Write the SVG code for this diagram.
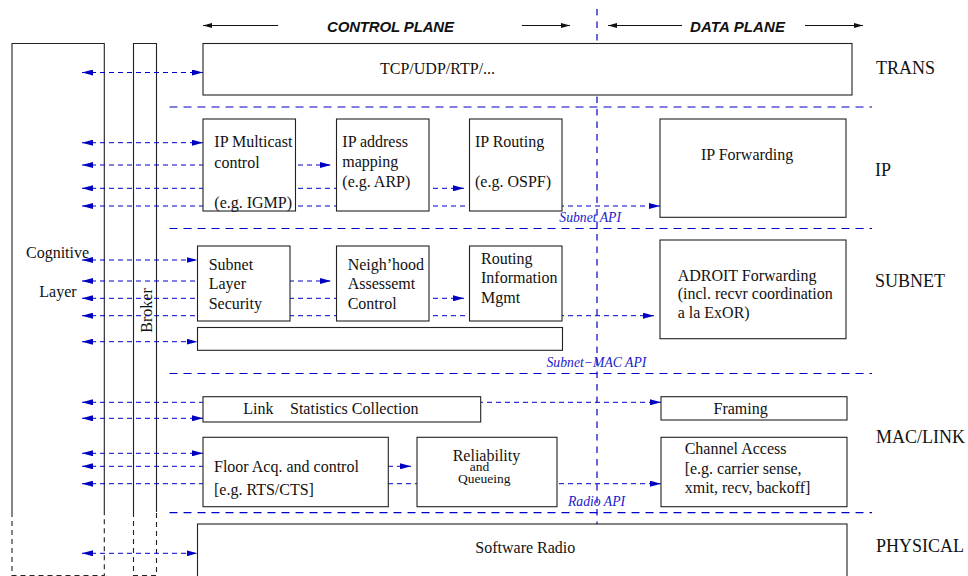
<svg xmlns="http://www.w3.org/2000/svg" width="968" height="576" viewBox="0 0 968 576">
<style>
.box{fill:#fff;stroke:#222;stroke-width:1.1}
.t{font-family:"Liberation Serif","Times New Roman",serif;font-size:16px;fill:#111}
.sm{font-size:13.5px}
.lay{font-family:"Liberation Serif","Times New Roman",serif;font-size:18px;fill:#111}
.api{font-family:"Liberation Serif","Times New Roman",serif;font-style:italic;font-size:13.7px;fill:#1a1acc}
.hdr{font-family:"Liberation Sans",Arial,sans-serif;font-weight:bold;font-style:italic;font-size:15px;fill:#111}
.conn{stroke:#0000c8;stroke-width:1;stroke-dasharray:5 4;fill:none}
.sep{stroke:#0000c8;stroke-width:1.2;stroke-dasharray:8 6;fill:none}
.vsep{stroke:#0000c8;stroke-width:1.2;stroke-dasharray:6.5 6;fill:none}
.harr{stroke:#111;stroke-width:1;fill:none}
.col{stroke:#222;stroke-width:1.1;fill:none}
.cold{stroke:#222;stroke-width:1.1;fill:none;stroke-dasharray:5 4}
</style>
<defs>
<marker id="ab" viewBox="0 0 11 6" refX="11" refY="3" markerWidth="11" markerHeight="6" markerUnits="userSpaceOnUse" orient="auto-start-reverse">
<path d="M0,0 L11,3 L0,6 z" fill="#0000c0"/>
</marker>
<marker id="ak" viewBox="0 0 9 5" refX="9" refY="2.5" markerWidth="9" markerHeight="5" markerUnits="userSpaceOnUse" orient="auto-start-reverse">
<path d="M0,0 L9,2.5 L0,5 z" fill="#111"/>
</marker>
</defs>
<rect x="0" y="0" width="968" height="576" fill="#fff"/>

<g id="header">
<line class="harr" x1="278" y1="25.5" x2="203" y2="25.5" marker-end="url(#ak)"/>
<text class="hdr" x="327" y="31.5" textLength="127">CONTROL PLANE</text>
<line class="harr" x1="522" y1="25.5" x2="570" y2="25.5" marker-end="url(#ak)"/>
<line class="harr" x1="682" y1="25.5" x2="608" y2="25.5" marker-end="url(#ak)"/>
<text class="hdr" x="690" y="31.5" textLength="95">DATA PLANE</text>
<line class="harr" x1="805" y1="25.5" x2="863" y2="25.5" marker-end="url(#ak)"/>
</g>

<g id="separators">
<line class="vsep" x1="597" y1="9" x2="597" y2="524"/>
<line class="sep" x1="169.5" y1="107" x2="872" y2="107"/>
<line class="sep" x1="169.5" y1="228.5" x2="872" y2="228.5"/>
<line class="sep" x1="169.5" y1="373.5" x2="872" y2="373.5"/>
<line class="sep" x1="169.5" y1="512.7" x2="872" y2="512.7"/>
</g>

<g id="cognitive-layer">
<path class="col" d="M12,512 V43.5 H104.3 V512"/>
<path class="cold" d="M12,512 V575.5 H104.3 V512"/>
<text class="t" x="26" y="258">Cognitive</text>
<text class="t" x="39.3" y="296.7">Layer</text>
</g>

<g id="broker">
<path class="col" d="M133.5,512 V43.5 H156.5 V512"/>
<path class="cold" d="M133.5,512 V575.5 H156.5 V512"/>
<text class="t" text-anchor="middle" transform="translate(151.5,310.5) rotate(-90)">Broker</text>
</g>

<g id="connectors">
<line class="conn" x1="82" y1="72.5" x2="203" y2="72.5" marker-start="url(#ab)" marker-end="url(#ab)"/>
<line class="conn" x1="82" y1="142.7" x2="203" y2="142.7" marker-start="url(#ab)" marker-end="url(#ab)"/>
<line class="conn" x1="82" y1="165" x2="331" y2="165" marker-start="url(#ab)" marker-end="url(#ab)"/>
<line class="conn" x1="82" y1="188.3" x2="464" y2="188.3" marker-start="url(#ab)" marker-end="url(#ab)"/>
<line class="conn" x1="82" y1="206" x2="660" y2="206" marker-start="url(#ab)" marker-end="url(#ab)"/>
<line class="conn" x1="82" y1="260" x2="197.5" y2="260" marker-start="url(#ab)" marker-end="url(#ab)"/>
<line class="conn" x1="82" y1="281" x2="331" y2="281" marker-start="url(#ab)" marker-end="url(#ab)"/>
<line class="conn" x1="82" y1="298.3" x2="464" y2="298.3" marker-start="url(#ab)" marker-end="url(#ab)"/>
<line class="conn" x1="82" y1="315.7" x2="654" y2="315.7" marker-start="url(#ab)" marker-end="url(#ab)"/>
<line class="conn" x1="82" y1="341.7" x2="197.5" y2="341.7" marker-start="url(#ab)" marker-end="url(#ab)"/>
<line class="conn" x1="82" y1="402.3" x2="661" y2="402.3" marker-start="url(#ab)" marker-end="url(#ab)"/>
<line class="conn" x1="82" y1="418.3" x2="203" y2="418.3" marker-start="url(#ab)" marker-end="url(#ab)"/>
<line class="conn" x1="82" y1="453.3" x2="203" y2="453.3" marker-start="url(#ab)" marker-end="url(#ab)"/>
<line class="conn" x1="82" y1="466.3" x2="411" y2="466.3" marker-start="url(#ab)" marker-end="url(#ab)"/>
<line class="conn" x1="82" y1="483.7" x2="661" y2="483.7" marker-start="url(#ab)" marker-end="url(#ab)"/>
<line class="conn" x1="82" y1="553.3" x2="197.5" y2="553.3" marker-start="url(#ab)" marker-end="url(#ab)"/>
</g>

<g id="tcp-udp-rtp">
<rect class="box" x="203" y="43.5" width="649" height="51.5"/>
<text class="t" x="380" y="74">TCP/UDP/RTP/...</text>
</g>

<g id="ip-multicast">
<rect class="box" x="203" y="119" width="92.5" height="92"/>
<text class="t" x="214.3" y="147.3">IP Multicast</text>
<text class="t" x="214.3" y="167.7">control</text>
<text class="t" x="214.3" y="208">(e.g. IGMP)</text>
</g>

<g id="ip-address-mapping">
<rect class="box" x="336.5" y="119" width="92.5" height="92"/>
<text class="t" x="342.3" y="147.3">IP address</text>
<text class="t" x="342.3" y="167">mapping</text>
<text class="t" x="342.3" y="187.3">(e.g. ARP)</text>
</g>

<g id="ip-routing">
<rect class="box" x="469.5" y="119" width="92.5" height="92"/>
<text class="t" x="475" y="147.3">IP Routing</text>
<text class="t" x="475" y="187.3">(e.g. OSPF)</text>
</g>

<g id="ip-forwarding">
<rect class="box" x="660" y="119" width="186" height="98.3"/>
<text class="t" x="701" y="160">IP Forwarding</text>
</g>

<g id="subnet-layer-security">
<rect class="box" x="197.5" y="246" width="92.5" height="75"/>
<text class="t" x="208.7" y="270">Subnet</text>
<text class="t" x="208.7" y="289.3">Layer</text>
<text class="t" x="208.7" y="309">Security</text>
</g>

<g id="neighhood-assessment">
<rect class="box" x="336.5" y="246" width="92.5" height="75"/>
<text class="t" x="347.7" y="270">Neigh’hood</text>
<text class="t" x="347.7" y="289.3">Assessemt</text>
<text class="t" x="347.7" y="309">Control</text>
</g>

<g id="routing-information">
<rect class="box" x="469.5" y="246" width="92.5" height="75"/>
<text class="t" x="481" y="264.3">Routing</text>
<text class="t" x="481" y="283.3">Information</text>
<text class="t" x="481" y="303.3">Mgmt</text>
</g>

<g id="adroit-forwarding">
<rect class="box" x="660" y="240" width="186" height="98.7"/>
<text class="t" x="677.7" y="281">ADROIT Forwarding</text>
<text class="t" x="677.7" y="299">(incl. recvr coordination</text>
<text class="t" x="677.7" y="317.7">a la ExOR)</text>
</g>

<g id="subnet-empty">
<rect class="box" x="197.5" y="327.5" width="365" height="22.8"/>
</g>

<g id="link-statistics">
<rect class="box" x="203" y="396.7" width="277.7" height="25.3"/>
<text class="t" x="243.3" y="414">Link</text>
<text class="t" x="290" y="414">Statistics Collection</text>
</g>

<g id="framing">
<rect class="box" x="661" y="396.7" width="186" height="23.3"/>
<text class="t" x="713.5" y="414">Framing</text>
</g>

<g id="floor-acq">
<rect class="box" x="203" y="437.3" width="185.3" height="69.4"/>
<text class="t" x="214" y="471.7">Floor Acq. and control</text>
<text class="t" x="214" y="495">[e.g. RTS/CTS]</text>
</g>

<g id="reliability">
<rect class="box" x="417" y="437.3" width="140" height="69.4"/>
<text class="t" x="452.7" y="460.7">Reliability</text>
<text class="t sm" x="469.8" y="470.7">and</text>
<text class="t sm" x="458" y="482.7">Queueing</text>
</g>

<g id="channel-access">
<rect class="box" x="661" y="437.3" width="186" height="69.4"/>
<text class="t" x="684.7" y="454">Channel Access</text>
<text class="t" x="684.7" y="474">[e.g. carrier sense,</text>
<text class="t" x="684.7" y="493.3">xmit, recv, backoff]</text>
</g>

<g id="software-radio">
<rect class="box" x="197.5" y="524" width="649.5" height="60"/>
<text class="t" x="475.3" y="552.7">Software Radio</text>
</g>

<g id="api-labels">
<text class="api" x="559.3" y="221.7">Subnet API</text>
<text class="api" x="546.5" y="367">Subnet−MAC API</text>
<text class="api" x="568" y="505.7">Radio API</text>
</g>

<g id="layer-labels">
<text class="lay" x="876" y="74">TRANS</text>
<text class="lay" x="875" y="176">IP</text>
<text class="lay" x="875" y="287">SUBNET</text>
<text class="lay" x="876" y="443.3">MAC/LINK</text>
<text class="lay" x="876" y="552">PHYSICAL</text>
</g>
</svg>
